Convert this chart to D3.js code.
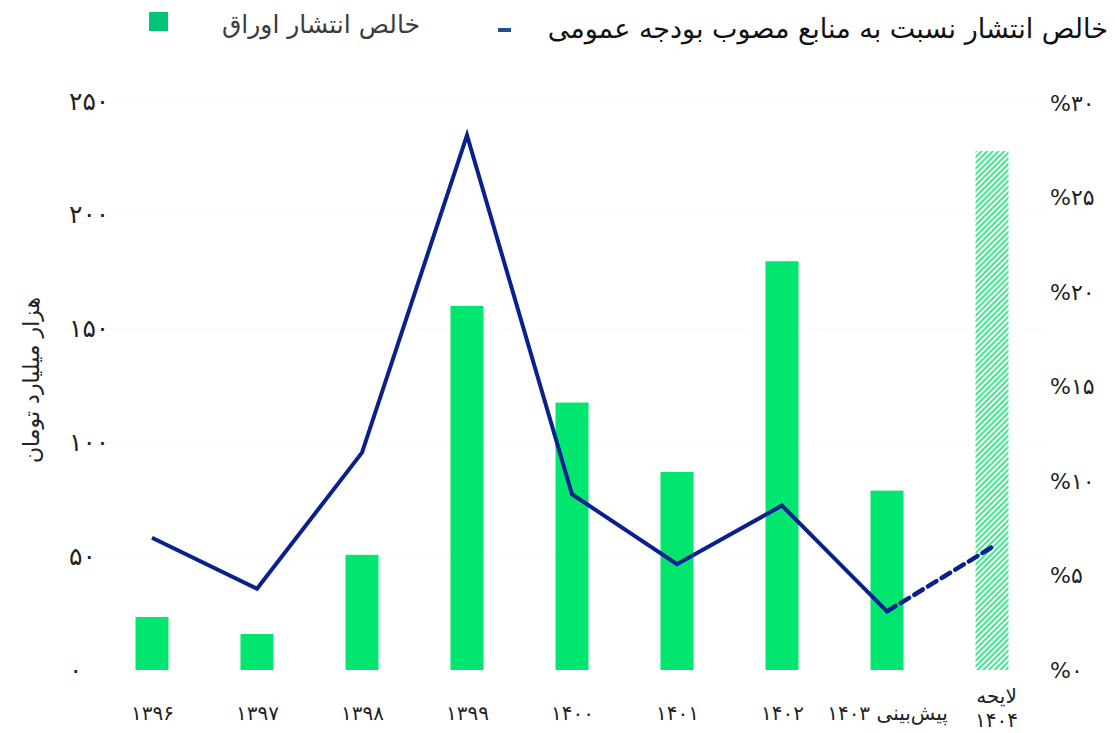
<!DOCTYPE html>
<html><head><meta charset="utf-8">
<script src="https://cdn.jsdelivr.net/npm/d3@7"></script>
<style>
html,body{margin:0;padding:0;background:#fff;}
svg{display:block;font-family:"DejaVu Sans",sans-serif;}
</style></head>
<body>
<svg id="c" width="1115" height="733"></svg>
<script>
const categories = ["1396","1397","1398","1399","1400","1401","1402","1403","1404"];
const categoryLabels = [["۱۳۹۶"],["۱۳۹۷"],["۱۳۹۸"],["۱۳۹۹"],["۱۴۰۰"],["۱۴۰۱"],["۱۴۰۲"],["پیش‌بینی ۱۴۰۳"],["لایحه","۱۴۰۴"]];
const netIssuance = [23.3, 15.8, 50.6, 160, 117.5, 87, 179.6, 78.8, 228];
const shareOfBudget = [7.0, 4.3, 11.5, 28.3, 9.3, 5.6, 8.7, 3.1, 6.5];
const leftTicks = [0, 50, 100, 150, 200, 250];
const leftTickLabels = ["۰","۵۰","۱۰۰","۱۵۰","۲۰۰","۲۵۰"];
const rightTicks = [0, 5, 10, 15, 20, 25, 30];
const rightTickLabels = ["%۰","%۵","%۱۰","%۱۵","%۲۰","%۲۵","%۳۰"];
const seriesNames = ["خالص انتشار اوراق", "خالص انتشار نسبت به منابع مصوب بودجه عمومی"];
const yAxisTitle = "هزار میلیارد تومان";

const svg = d3.select("#c");
const x = d3.scalePoint().domain(categories).range([152, 992]);
const barW = 33;
const yL = d3.scaleLinear().domain([0, 250]).range([670, 101]);
const yR = d3.scaleLinear().domain([0, 30]).range([670, 103]);

// pattern for hatched bar
const defs = svg.append("defs");
const pat = defs.append("pattern").attr("id","hatch").attr("patternUnits","userSpaceOnUse")
  .attr("width",4).attr("height",4).attr("patternTransform","rotate(45)");
pat.append("rect").attr("width",4).attr("height",4).attr("fill","#fff");
pat.append("rect").attr("x",0).attr("y",0).attr("width",2).attr("height",4).attr("fill","#3ee98c");

// faint gridlines
svg.append("g").selectAll("line").data(leftTicks.slice(1)).join("line")
  .attr("x1",100).attr("x2",1044).attr("y1",d=>yL(d)).attr("y2",d=>yL(d))
  .attr("stroke","#f9f9f9").attr("stroke-width",1);

// bars
svg.append("g").selectAll("rect").data(categories).join("rect")
  .attr("x", d => x(d) - barW/2)
  .attr("width", barW)
  .attr("y", (d,i) => yL(netIssuance[i]))
  .attr("height", (d,i) => yL(0) - yL(netIssuance[i]))
  .attr("fill", (d,i) => i === categories.length-1 ? "url(#hatch)" : "#00e66f");

// line
const pts = categories.map((c,i)=>[x(c), yR(shareOfBudget[i])]);
const line = d3.line();
svg.append("path").attr("d", line(pts.slice(0, 8)))
  .attr("fill","none").attr("stroke","#0a208e").attr("stroke-width",4)
  .attr("stroke-linejoin","miter");
svg.append("path").attr("d", line(pts.slice(7)))
  .attr("fill","none").attr("stroke","#0a208e").attr("stroke-width",4.5)
  .attr("stroke-dasharray","10,6").attr("stroke-linecap","round");

// left axis
const gl = svg.append("g").attr("transform","translate(62,0)")
  .call(d3.axisRight(yL).tickValues(leftTicks).tickSize(0).tickPadding(7)
    .tickFormat((d,i)=>leftTickLabels[i]));
gl.select(".domain").remove();
gl.selectAll("text").attr("font-family","DejaVu Sans").attr("font-size",25).attr("fill","#222")
  .attr("text-anchor","start");

// right axis
const gr = svg.append("g").attr("transform","translate(1042,0)")
  .call(d3.axisRight(yR).tickValues(rightTicks).tickSize(0).tickPadding(8)
    .tickFormat((d,i)=>rightTickLabels[i]));
gr.select(".domain").remove();
gr.selectAll("text").attr("font-family","DejaVu Sans").attr("font-size",22).attr("fill","#222")
  .attr("text-anchor","start");

// x axis
const gx = svg.append("g").attr("transform","translate(0,670)")
  .call(d3.axisBottom(x).tickSize(0).tickFormat(""));
gx.select(".domain").remove();
gx.selectAll(".tick").each(function(d,i){
  const lines = categoryLabels[i];
  const t = d3.select(this).append("text").attr("fill","#222").attr("font-family","DejaVu Sans")
    .attr("font-size",20).attr("text-anchor","middle");
  if (lines.length === 1) {
    t.attr("y", 50).text(lines[0]);
  } else {
    lines.forEach((s,k)=>t.append("tspan").attr("x",4).attr("y", 33 + k*24).text(s));
  }
});

// y axis title
svg.append("text").attr("transform","translate(39,380) rotate(-90)")
  .attr("text-anchor","middle").attr("font-size",22).attr("fill","#222")
  .text(yAxisTitle);

// legend
svg.append("rect").attr("x",149).attr("y",12).attr("width",19).attr("height",19).attr("fill","#00c47a");
svg.append("text").attr("x",420).attr("y",33).attr("text-anchor","end")
  .attr("font-size",25).attr("fill","#3c3c3c").text(seriesNames[0]);
svg.append("line").attr("x1",498).attr("x2",511).attr("y1",30).attr("y2",30)
  .attr("stroke","#1f4f86").attr("stroke-width",4);
svg.append("text").attr("x",1108).attr("y",38).attr("text-anchor","end")
  .attr("font-size",27).attr("fill","#111").text(seriesNames[1]);
</script>
</body></html>
